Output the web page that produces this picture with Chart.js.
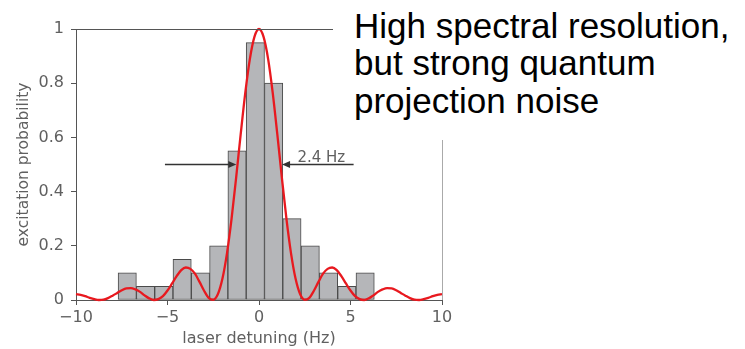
<!DOCTYPE html>
<html>
<head>
<meta charset="utf-8">
<script src="https://cdn.jsdelivr.net/npm/chart.js@4/dist/chart.umd.min.js"></script>
<style>
  html, body { margin: 0; padding: 0; background: #fff; }
  #wrap { position: relative; width: 745px; height: 349px; overflow: hidden; }
  #c { position: absolute; left: 0; top: 0; }
  #note {
    position: absolute; left: 333px; top: 0; width: 412px; height: 140px;
    background: #fff; box-sizing: border-box; padding: 6.8px 0 0 21px;
    font-family: "Liberation Sans", Arial, sans-serif; font-size: 35px;
    line-height: 37.5px; color: #000; white-space: nowrap;
  }
</style>
</head>
<body>
<div id="wrap">
  <canvas id="c" width="745" height="349"></canvas>
  <div id="note">High spectral resolution,<br>but strong quantum<br>projection noise</div>
</div>
<script>
// Histogram of measured excitation probability (bin centres in Hz)
const barX = [-7.2, -6.2, -5.2, -4.2, -3.2, -2.2, -1.2, -0.2, 0.8, 1.8, 2.8, 3.8, 4.8, 5.8];
const barY = [0.10, 0.05, 0.05, 0.15, 0.10, 0.20, 0.55, 0.95, 0.80, 0.30, 0.20, 0.10, 0.05, 0.10];

// Red line shape
const curveX = [-10, -9.75, -9.5, -9.25, -9, -8.75, -8.5, -8.25, -8, -7.75, -7.5, -7.25, -7, -6.75, -6.5, -6.25, -6, -5.75, -5.5, -5.25, -5, -4.75, -4.5, -4.25, -4, -3.75, -3.5, -3.25, -3, -2.75, -2.5, -2.25, -2, -1.75, -1.5, -1.25, -1, -0.75, -0.5, -0.25, 0,
                0.25, 0.5, 0.75, 1, 1.25, 1.5, 1.75, 2, 2.25, 2.5, 2.75, 3, 3.25, 3.5, 3.75, 4, 4.25, 4.5, 4.75, 5, 5.25, 5.5, 5.75, 6, 6.25, 6.5, 6.75, 7, 7.25, 7.5, 7.75, 8, 8.25, 8.5, 8.75, 9, 9.25, 9.5, 9.75, 10];
const curveY = [0.022, 0.019, 0.014, 0.008, 0.003, 0.000, 0.001, 0.007, 0.016, 0.026, 0.036, 0.043, 0.044, 0.039, 0.030, 0.017, 0.006, 0.000, 0.003, 0.014, 0.035, 0.061, 0.088, 0.110, 0.120, 0.115, 0.097, 0.067, 0.034, 0.008, 0.001, 0.021, 0.078, 0.172, 0.299, 0.451, 0.612, 0.764, 0.889, 0.971, 1.000,
                0.971, 0.889, 0.764, 0.612, 0.451, 0.299, 0.172, 0.078, 0.021, 0.001, 0.008, 0.034, 0.067, 0.097, 0.115, 0.120, 0.110, 0.088, 0.061, 0.035, 0.014, 0.003, 0.000, 0.006, 0.017, 0.030, 0.039, 0.044, 0.043, 0.036, 0.026, 0.016, 0.007, 0.001, 0.000, 0.003, 0.008, 0.014, 0.019, 0.022];

// Axis ticks
const xTicks = [-10, -5, 0, 5, 10];
const yTicks = [0, 0.2, 0.4, 0.6, 0.8, 1];

// Linewidth annotation (data coordinates)
const fwhmLabel = '2.4 Hz';
const arrowY = 0.5;
const leftArrow = [-5.14, -1.24];   // tail, tip
const rightArrow = [5.17, 1.26];    // tail, tip
const labelX = 2.1;

const axisColor = '#555';
const textColor = '#606060';

const frame = {
  id: 'frame',
  afterDatasetsDraw(chart) {
    const {ctx, chartArea: a, scales: {x, y}} = chart;
    ctx.save();
    ctx.lineWidth = 1;
    ctx.strokeStyle = axisColor;
    ctx.beginPath();
    ctx.moveTo(a.left, Math.round(a.top) + 0.5);
    ctx.lineTo(a.right, Math.round(a.top) + 0.5);
    ctx.stroke();
    ctx.strokeStyle = '#aaa';
    ctx.beginPath();
    ctx.moveTo(Math.round(a.right) + 0.5, a.top);
    ctx.lineTo(Math.round(a.right) + 0.5, a.bottom);
    ctx.stroke();

    const py = y.getPixelForValue(arrowY);
    const drawArrow = (tail, tip) => {
      const x0 = x.getPixelForValue(tail), x1 = x.getPixelForValue(tip);
      const dir = Math.sign(x1 - x0);
      ctx.strokeStyle = '#333';
      ctx.fillStyle = '#333';
      ctx.lineWidth = 1.5;
      ctx.beginPath();
      ctx.moveTo(x0, py);
      ctx.lineTo(x1 - dir * 6, py);
      ctx.stroke();
      ctx.beginPath();
      ctx.moveTo(x1, py);
      ctx.lineTo(x1 - dir * 8, py - 3.5);
      ctx.lineTo(x1 - dir * 8, py + 3.5);
      ctx.closePath();
      ctx.fill();
    };
    drawArrow(leftArrow[0], leftArrow[1]);
    drawArrow(rightArrow[0], rightArrow[1]);
    ctx.fillStyle = textColor;
    ctx.font = '15px "DejaVu Sans"';
    ctx.textAlign = 'left';
    ctx.textBaseline = 'alphabetic';
    ctx.fillText(fwhmLabel, x.getPixelForValue(labelX), py - 2.5);
    ctx.restore();
  }
};

new Chart(document.getElementById('c'), {
  type: 'bar',
  data: {
    datasets: [
      {
        type: 'line',
        data: curveX.map((v, i) => ({x: v, y: curveY[i]})),
        borderColor: '#e8191f',
        borderWidth: 2.3,
        pointRadius: 0,
        cubicInterpolationMode: 'monotone',
        fill: false,
        order: 1,
        clip: false
      },
      {
        type: 'bar',
        data: barX.map((v, i) => ({x: v, y: barY[i]})),
        backgroundColor: '#b5b6b9',
        borderColor: '#4a4a4a',
        borderWidth: 1,
        borderSkipped: false,
        barPercentage: 1,
        categoryPercentage: 1,
        order: 2
      }
    ]
  },
  options: {
    responsive: false,
    animation: false,
    events: [],
    layout: { padding: { left: 0, right: 303, top: 29, bottom: 0 } },
    plugins: { legend: { display: false }, tooltip: { enabled: false } },
    scales: {
      x: {
        type: 'linear',
        min: -10, max: 10,
        offset: false,
        afterFit(s) { s.height = 49; },
        afterBuildTicks(s) { s.ticks = xTicks.map(v => ({value: v})); },
        ticks: {
          color: textColor, padding: 3,
          font: { family: 'DejaVu Sans', size: 16 },
          maxRotation: 0,
          callback: v => String(v).replace('-', '\u2212')
        },
        grid: { offset: false, drawOnChartArea: false, drawTicks: true, tickLength: 5, color: axisColor },
        border: { display: true, color: axisColor, width: 1 },
        title: {
          display: true, text: 'laser detuning (Hz)', color: textColor,
          font: { family: 'DejaVu Sans', size: 16 }, padding: { top: 0, bottom: 0.5 }
        }
      },
      y: {
        type: 'linear',
        min: 0, max: 1,
        afterFit(s) { s.width = 76; },
        afterBuildTicks(s) { s.ticks = yTicks.map(v => ({value: v})); },
        ticks: {
          color: textColor, padding: 7,
          font: { family: 'DejaVu Sans', size: 16 },
          callback: v => String(v)
        },
        grid: { drawOnChartArea: false, drawTicks: true, tickLength: 5, color: axisColor },
        border: { display: true, color: axisColor, width: 1 },
        title: {
          display: true, text: 'excitation probability', color: textColor,
          font: { family: 'DejaVu Sans', size: 15.5 }, padding: { top: 15, bottom: 0 }
        }
      }
    }
  },
  plugins: [frame]
});
</script>
</body>
</html>
